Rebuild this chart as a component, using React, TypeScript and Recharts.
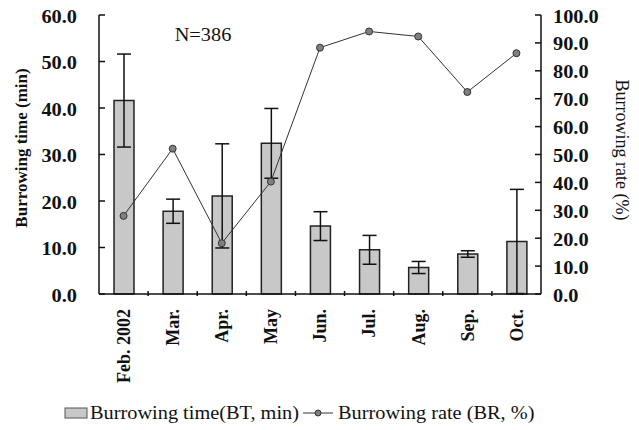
import React from "react";
import {
  ComposedChart,
  Bar,
  Line,
  XAxis,
  YAxis,
  ErrorBar,
  Legend,
} from "recharts";

// Monthly sampling, Feb 2002 - Oct 2002
const months = [
  "Feb. 2002",
  "Mar.",
  "Apr.",
  "May",
  "Jun.",
  "Jul.",
  "Aug.",
  "Sep.",
  "Oct.",
];
// burrowing time (min), mean and error
const burrowTime = [41.6, 17.8, 21.1, 32.4, 14.6, 9.5, 5.7, 8.6, 11.3];
const burrowTimeErr = [10.0, 2.6, 11.2, 7.5, 3.1, 3.1, 1.3, 0.7, 11.2];
// burrowing rate (%)
const burrowRate = [28.0, 52.1, 18.2, 40.3, 88.3, 94.1, 92.3, 72.4, 86.3];

const leftTicks = [0, 10, 20, 30, 40, 50, 60];
const rightTicks = [0, 10, 20, 30, 40, 50, 60, 70, 80, 90, 100];

const data = months.map((m, i) => ({
  month: m,
  bt: burrowTime[i],
  btErr: burrowTimeErr[i],
  br: burrowRate[i],
}));

const SERIF = '"Liberation Serif", "Times New Roman", serif';
const INK = "#111";
const LEFT_GAP = 22;
const RIGHT_GAP = 12;
const TICK_LEN = 6;

// value label plus a short tick pointing into the plot
const YTick = (props: any) => {
  const { x, y, payload, textAnchor, side } = props;
  const axisX = side === "left" ? x + LEFT_GAP : x - RIGHT_GAP;
  const innerX = side === "left" ? axisX + TICK_LEN : axisX - TICK_LEN;
  return (
    <g>
      <line x1={axisX} y1={y} x2={innerX} y2={y} stroke={INK} strokeWidth={1.5} />
      <g transform={`translate(${x},${y})`}>
        <text
          transform="scale(1.13,1)"
          textAnchor={textAnchor}
          dy="0.42em"
          fontFamily={SERIF}
          fontWeight="bold"
          fontSize={18}
          fill={INK}
        >
          {Number(payload.value).toFixed(1)}
        </text>
      </g>
    </g>
  );
};

// rotated month label; small tick at the left edge of each band
const MonthTick = (props: any) => {
  const { x, y, payload, index, width, visibleTicksCount } = props;
  const half =
    payload.offset ||
    (width && visibleTicksCount ? width / visibleTicksCount / 2 : 0);
  return (
    <g>
      {index > 0 && half > 0 && (
        <line
          x1={x - half}
          y1={y}
          x2={x - half}
          y2={y - 5}
          stroke={INK}
          strokeWidth={1.5}
        />
      )}
      <text
        transform={`translate(${x},${y + 13}) rotate(-90)`}
        textAnchor="end"
        dy="0.35em"
        fontFamily={SERIF}
        fontWeight="bold"
        fontSize={18}
        fill={INK}
      >
        {payload.value}
      </text>
    </g>
  );
};

const LeftTitle = () => (
  <text
    transform="translate(21,148) rotate(-90)"
    textAnchor="middle"
    dy="0.35em"
    fontFamily={SERIF}
    fontWeight="bold"
    fontSize={17}
    fill={INK}
  >
    Burrowing time (min)
  </text>
);

const RightTitle = () => (
  <text
    transform="translate(622,150) rotate(90)"
    textAnchor="middle"
    dy="0.35em"
    fontFamily={SERIF}
    fontSize={18}
    fill={INK}
  >
    Burrowing rate (%)
  </text>
);

const LegendContent = () => (
  <svg width={639} height={30}>
    <rect x={65} y={8} width={22} height={10} fill="#c8c8c8" stroke="#555" />
    <text
      x={90}
      y={19}
      transform="translate(-11.7,0) scale(1.13,1)"
      fontFamily={SERIF}
      fontSize={18}
      fill={INK}
    >
      Burrowing time(BT, min)
    </text>
    <line x1={303} y1={13} x2={333} y2={13} stroke="#333" strokeWidth={1} />
    <circle cx={318} cy={13} r={3} fill="#7f7f7f" stroke="#333" />
    <text
      x={338}
      y={19}
      transform="translate(-43.9,0) scale(1.13,1)"
      fontFamily={SERIF}
      fontSize={18}
      fill={INK}
    >
      Burrowing rate (BR, %)
    </text>
  </svg>
);

export default function App() {
  return (
    <div
      style={{
        position: "absolute",
        left: 0,
        top: 0,
        width: 639,
        height: 430,
        background: "#fff",
      }}
    >
      <ComposedChart
        width={639}
        height={430}
        data={data}
        margin={{ top: 15, right: 0, bottom: 0, left: 0 }}
      >
        <XAxis
          dataKey="month"
          height={106}
          interval={0}
          tickLine={false}
          tickSize={0}
          axisLine={{ stroke: INK, strokeWidth: 1.5 }}
          tick={<MonthTick />}
        />
        <YAxis
          yAxisId="left"
          orientation="left"
          width={99}
          domain={[0, 60]}
          ticks={leftTicks}
          tickLine={false}
          tickSize={0}
          tickMargin={LEFT_GAP}
          axisLine={{ stroke: INK, strokeWidth: 1.5 }}
          tick={<YTick side="left" />}
          label={<LeftTitle />}
        />
        <YAxis
          yAxisId="right"
          orientation="right"
          width={98}
          domain={[0, 100]}
          ticks={rightTicks}
          tickLine={false}
          tickSize={0}
          tickMargin={RIGHT_GAP}
          axisLine={{ stroke: INK, strokeWidth: 1.5 }}
          tick={<YTick side="right" />}
          label={<RightTitle />}
        />

        <Bar
          yAxisId="left"
          dataKey="bt"
          name="Burrowing time(BT, min)"
          barSize={20}
          fill="#c8c8c8"
          stroke="#222"
          strokeWidth={1.5}
          isAnimationActive={false}
        >
          <ErrorBar
            dataKey="btErr"
            direction="y"
            width={7}
            stroke={INK}
            strokeWidth={1.5}
          />
        </Bar>
        <Line
          yAxisId="right"
          dataKey="br"
          name="Burrowing rate (BR, %)"
          type="linear"
          stroke="#333"
          strokeWidth={1}
          dot={{ r: 3.5, fill: "#7f7f7f", stroke: "#333", strokeWidth: 1 }}
          isAnimationActive={false}
        />

        <text
          x={203}
          y={41}
          textAnchor="middle"
          fontFamily={SERIF}
          fontSize={18}
          fill={INK}
          transform="translate(-26.4,0) scale(1.13,1)"
        >
          N=386
        </text>

        <Legend
          verticalAlign="bottom"
          content={<LegendContent />}
          wrapperStyle={{ height: 30, width: 639, left: 0, bottom: 0 }}
        />
      </ComposedChart>
    </div>
  );
}
